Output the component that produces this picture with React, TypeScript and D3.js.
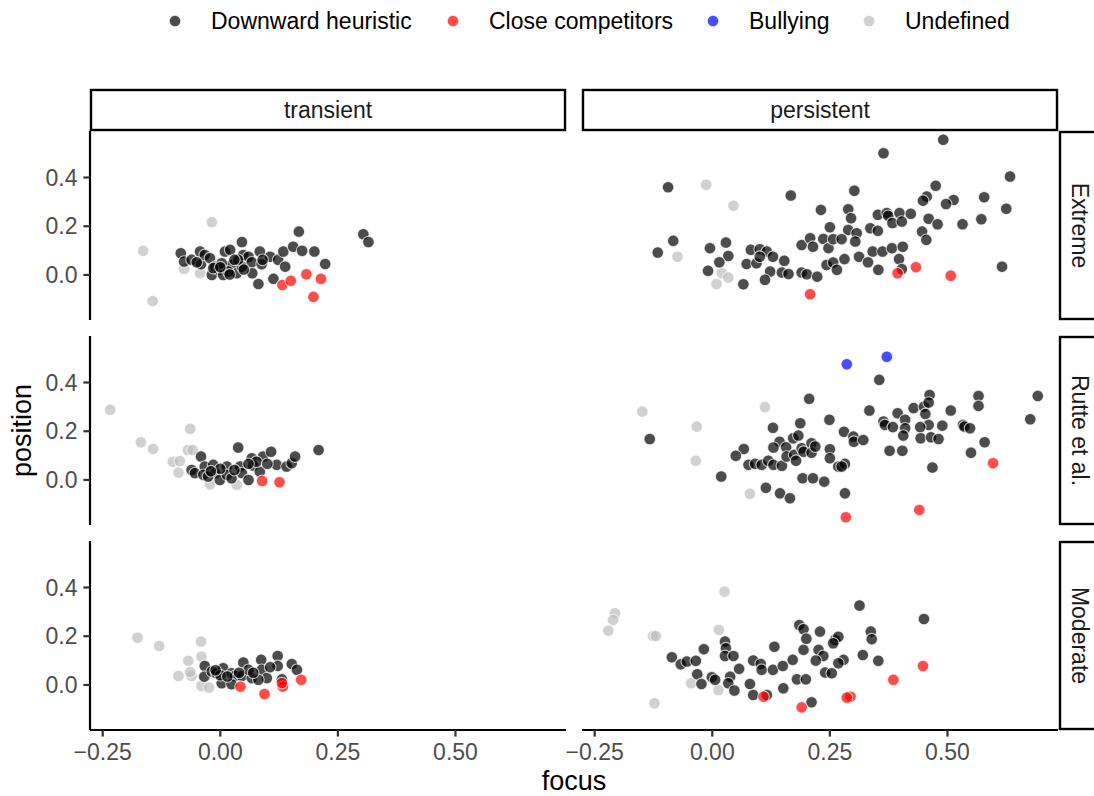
import React from 'react';
import * as d3 from 'd3';

type Pt = [number, number];

// legend groups and facet labels
const groups = ['Downward heuristic', 'Close competitors', 'Bullying', 'Undefined'];
const groupFill = ['#000000', '#FF0000', '#0000FF', '#BEBEBE'];
const cols = ['transient', 'persistent'];
const rows = ['Extreme', 'Rutte et al.', 'Moderate'];
const xTicks = [-0.25, 0, 0.25, 0.5];
const yTicks = [0, 0.2, 0.4];

// transient / Extreme
const tExtUnd: Pt[] = [[-0.018, 0.217], [-0.164, 0.099], [-0.144, -0.107], [-0.077, 0.025], [-0.043, 0.007]];
const tExtDown: Pt[] = [
  [-0.084, 0.089], [-0.077, 0.055], [-0.061, 0.062], [-0.043, 0.096], [-0.041, 0.044], [-0.033, 0.082],
  [-0.022, 0.069], [-0.018, 0.0], [-0.011, 0.034], [-0.003, 0.021], [0.006, 0.0], [0.01, 0.096],
  [0.021, 0.103], [0.024, 0.041], [0.035, 0.007], [0.046, 0.135], [0.049, 0.082], [0.046, 0.034],
  [0.06, 0.075], [0.067, 0.052], [0.068, 0.007], [0.084, 0.096], [0.088, 0.044], [0.106, 0.075],
  [0.123, 0.062], [0.134, 0.096], [0.138, 0.034], [0.155, 0.116], [0.167, 0.178], [0.174, 0.099],
  [0.2, 0.096], [0.223, 0.045], [0.081, -0.037], [0.113, -0.016], [0.304, 0.167], [0.315, 0.135],
  [0.003, 0.048], [-0.015, 0.028], [0.017, 0.014], [0.038, 0.062], [0.05, 0.022], [0.03, 0.062],
  [-0.05, 0.052], [0.0, 0.032], [0.02, 0.002], [0.09, 0.062],
];
const tExtClose: Pt[] = [[0.132, -0.041], [0.15, -0.024], [0.183, 0.003], [0.214, -0.016], [0.198, -0.09]];

// persistent / Extreme
const pExtUnd: Pt[] = [[-0.013, 0.37], [0.045, 0.284], [-0.074, 0.075], [0.02, 0.007], [0.034, -0.011], [0.009, -0.037]];
const pExtDown: Pt[] = [
  [-0.094, 0.36], [0.167, 0.326], [0.231, 0.267], [0.25, 0.196], [-0.083, 0.14], [-0.116, 0.092],
  [-0.005, 0.11], [0.029, 0.133], [0.034, 0.078], [0.015, 0.052], [-0.009, 0.017], [0.066, -0.038],
  [0.082, 0.103], [0.101, 0.106], [0.116, 0.096], [0.073, 0.045], [0.094, 0.048], [0.101, 0.075],
  [0.129, 0.075], [0.153, 0.058], [0.123, 0.014], [0.112, -0.02], [0.148, 0.01], [0.162, 0.004],
  [0.19, 0.01], [0.201, 0.003], [0.223, -0.007], [0.19, 0.123], [0.208, 0.151], [0.214, 0.116],
  [0.236, 0.148], [0.247, 0.11], [0.257, 0.147], [0.243, 0.041], [0.257, 0.051], [0.265, 0.021],
  [0.491, 0.555], [0.364, 0.5], [0.633, 0.404], [0.302, 0.346], [0.475, 0.366], [0.456, 0.322],
  [0.448, 0.305], [0.513, 0.308], [0.497, 0.291], [0.578, 0.319], [0.625, 0.272], [0.289, 0.27],
  [0.295, 0.233], [0.352, 0.247], [0.371, 0.254], [0.374, 0.243], [0.398, 0.254], [0.422, 0.251],
  [0.383, 0.213], [0.403, 0.219], [0.46, 0.231], [0.479, 0.208], [0.532, 0.208], [0.572, 0.229],
  [0.446, 0.178], [0.455, 0.144], [0.289, 0.185], [0.307, 0.171], [0.304, 0.137], [0.336, 0.192],
  [0.352, 0.181], [0.275, 0.147], [0.341, 0.096], [0.362, 0.096], [0.382, 0.11], [0.405, 0.116],
  [0.312, 0.075], [0.331, 0.052], [0.353, 0.021], [0.281, 0.065], [0.397, 0.065], [0.403, 0.024],
  [0.616, 0.034],
];
const pExtClose: Pt[] = [[0.208, -0.079], [0.394, 0.007], [0.433, 0.032], [0.507, -0.003]];

// transient / Rutte et al.
const tRutUnd: Pt[] = [
  [-0.234, 0.288], [-0.169, 0.155], [-0.143, 0.127], [-0.064, 0.21], [-0.069, 0.123], [-0.059, 0.123],
  [-0.101, 0.075], [-0.086, 0.078], [-0.089, 0.03], [-0.022, -0.018], [0.035, -0.02],
];
const tRutDown: Pt[] = [
  [0.038, 0.133], [-0.041, 0.096], [-0.061, 0.041], [-0.054, 0.028], [-0.033, 0.055], [-0.036, 0.021],
  [-0.015, 0.062], [-0.011, 0.028], [-0.001, 0.0], [0.014, 0.055], [0.014, 0.021], [0.024, 0.007],
  [0.042, 0.055], [0.046, 0.028], [0.06, 0.0], [0.067, 0.089], [0.07, 0.059], [0.084, 0.034],
  [0.091, 0.096], [0.108, 0.116], [0.12, 0.062], [0.141, 0.055], [0.152, 0.069], [0.159, 0.096],
  [0.209, 0.123], [-0.026, 0.014], [0.077, 0.075], [0.03, 0.041], [0.0, 0.046], [0.06, 0.066],
  [0.1, 0.066], [-0.02, 0.036],
];
const tRutClose: Pt[] = [[0.089, -0.004], [0.126, -0.009]];

// persistent / Rutte et al.
const pRutUnd: Pt[] = [[-0.149, 0.281], [-0.033, 0.219], [-0.035, 0.079], [0.112, 0.299], [0.08, -0.057]];
const pRutDown: Pt[] = [
  [-0.133, 0.168], [0.206, 0.333], [0.187, 0.233], [0.249, 0.247], [0.129, 0.214], [0.067, 0.127],
  [0.05, 0.099], [0.077, 0.062], [0.091, 0.066], [0.105, 0.062], [0.119, 0.079], [0.13, 0.062],
  [0.148, 0.058], [0.143, 0.157], [0.13, 0.133], [0.157, 0.134], [0.158, 0.096], [0.172, 0.171],
  [0.183, 0.182], [0.174, 0.103], [0.178, 0.079], [0.19, 0.13], [0.194, 0.116], [0.211, 0.151],
  [0.211, 0.112], [0.219, 0.137], [0.25, 0.126], [0.25, 0.089], [0.268, 0.055], [0.019, 0.014],
  [0.114, -0.032], [0.144, -0.055], [0.165, -0.075], [0.192, 0.007], [0.214, 0.007], [0.238, -0.007],
  [0.355, 0.411], [0.334, 0.285], [0.394, 0.274], [0.41, 0.247], [0.364, 0.24], [0.367, 0.226],
  [0.384, 0.217], [0.41, 0.212], [0.406, 0.182], [0.428, 0.295], [0.45, 0.301], [0.462, 0.349],
  [0.46, 0.318], [0.453, 0.271], [0.46, 0.226], [0.442, 0.217], [0.443, 0.171], [0.465, 0.175],
  [0.481, 0.168], [0.489, 0.223], [0.507, 0.285], [0.533, 0.226], [0.536, 0.219], [0.548, 0.212],
  [0.566, 0.345], [0.566, 0.304], [0.579, 0.155], [0.55, 0.112], [0.692, 0.345], [0.676, 0.249],
  [0.377, 0.12], [0.404, 0.12], [0.468, 0.051], [0.28, 0.198], [0.3, 0.178], [0.301, 0.157],
  [0.321, 0.164], [0.282, 0.066], [0.275, 0.055], [0.282, -0.055],
];
const pRutClose: Pt[] = [[0.597, 0.069], [0.44, -0.123], [0.284, -0.153]];
const pRutBully: Pt[] = [[0.286, 0.475], [0.371, 0.506]];

// transient / Moderate
const tModUnd: Pt[] = [
  [-0.176, 0.194], [-0.13, 0.16], [-0.041, 0.178], [-0.04, 0.116], [-0.068, 0.099], [-0.089, 0.037],
  [-0.061, 0.037], [-0.04, -0.004], [-0.024, -0.011], [-0.064, 0.053],
];
const tModDown: Pt[] = [
  [-0.033, 0.078], [-0.034, 0.034], [-0.018, 0.055], [-0.008, 0.048], [0.006, 0.069], [0.003, 0.007],
  [0.024, 0.048], [0.031, 0.037], [0.049, 0.092], [0.046, 0.037], [0.024, 0.003], [0.067, 0.028],
  [0.087, 0.103], [0.088, 0.062], [0.099, 0.028], [0.122, 0.119], [0.122, 0.078], [0.152, 0.086],
  [0.163, 0.062], [0.131, 0.023], [0.081, 0.021], [0.06, 0.062], [0.106, 0.073], [0.0, 0.04],
  [0.04, 0.05], [0.015, 0.035], [-0.01, 0.06], [0.07, 0.05],
];
const tModClose: Pt[] = [[0.094, -0.037], [0.172, 0.021], [0.133, -0.007], [0.043, -0.007], [0.131, 0.008]];

// persistent / Moderate
const pModUnd: Pt[] = [
  [0.026, 0.383], [-0.207, 0.294], [-0.211, 0.267], [-0.221, 0.223], [-0.126, 0.201], [-0.12, 0.201],
  [0.014, 0.226], [-0.045, 0.007], [0.013, -0.021], [-0.123, -0.075],
];
const pModDown: Pt[] = [
  [0.185, 0.246], [0.194, 0.229], [0.229, 0.219], [0.132, 0.157], [-0.018, 0.147], [0.027, 0.178],
  [0.029, 0.151], [0.027, 0.119], [0.045, 0.119], [-0.086, 0.114], [-0.067, 0.085], [-0.054, 0.096],
  [-0.035, 0.099], [0.057, 0.066], [0.087, 0.1], [0.103, 0.086], [0.105, 0.062], [0.129, 0.062],
  [0.15, 0.078], [0.171, 0.103], [0.194, 0.144], [0.226, 0.144], [0.236, 0.119], [-0.032, 0.044],
  [-0.023, 0.004], [-0.001, 0.032], [0.006, 0.021], [0.038, 0.034], [0.034, 0.007], [0.047, -0.023],
  [0.08, 0.004], [0.087, -0.041], [0.116, -0.041], [0.151, -0.014], [0.18, 0.023], [0.199, 0.023],
  [0.24, 0.051], [0.211, -0.071], [0.313, 0.326], [0.45, 0.271], [0.337, 0.219], [0.339, 0.188],
  [0.261, 0.185], [0.268, 0.198], [0.257, 0.171], [0.279, 0.103], [0.268, 0.089], [0.32, 0.123],
  [0.353, 0.099], [0.254, 0.048], [0.22, 0.1], [0.2, 0.19],
];
const pModClose: Pt[] = [[0.19, -0.092], [0.109, -0.048], [0.385, 0.021], [0.448, 0.078], [0.294, -0.048], [0.286, -0.052]];

// [row][col] -> series per group index (0 down, 1 close, 2 bully, 3 undefined)
const panelData: Pt[][][][] = [
  [[tExtDown, tExtClose, [], tExtUnd], [pExtDown, pExtClose, [], pExtUnd]],
  [[tRutDown, tRutClose, [], tRutUnd], [pRutDown, pRutClose, pRutBully, pRutUnd]],
  [[tModDown, tModClose, [], tModUnd], [pModDown, pModClose, [], pModUnd]],
];
const drawOrder = [3, 0, 1, 2];

const W = 1094;
const H = 796;
const colX = [90, 582];
const rowY = [131, 336, 541];
const PW = 476;
const PH = 189;
const stripH = 42;
const rStripX = 1059;
const rStripW = 42;
const legendX = [175, 453, 713, 869];
const font = "'Liberation Sans', Arial, Helvetica, sans-serif";
const smallFont = 23;
const titleFont = 27;

const x = d3.scaleLinear().domain([-0.277, 0.735]).range([0, PW]);
const y = d3.scaleLinear().domain([-0.185, 0.591]).range([PH, 0]);

const fmtX = (v: number) => d3.format('.2f')(v).replace('-', '\u2212');
const fmtY = (v: number) => d3.format('.1f')(v);

function Dot({ cx, cy, fill }: { cx: number; cy: number; fill: string }) {
  return (
    <circle cx={cx} cy={cy} r={5.8} fill={fill} fillOpacity={0.7}
      stroke="#FFFFFF" strokeOpacity={0.7} strokeWidth={1.1} />
  );
}

export default function App() {
  return (
    <svg width={W} height={H} style={{ position: 'absolute', left: 0, top: 0 }} fontFamily={font}>
      <rect width={W} height={H} fill="#FFFFFF" />

      {/* legend */}
      {groups.map((g, i) => (
        <g key={g}>
          <Dot cx={legendX[i]} cy={21} fill={groupFill[i]} />
          <text x={legendX[i] + 36} y={21} dy="0.35em" fontSize={smallFont} fill="#000000">{g}</text>
        </g>
      ))}

      {/* column strips */}
      {cols.map((c, ci) => (
        <g key={c}>
          <rect x={colX[ci] + 1} y={rowY[0] - stripH + 1} width={PW - 2} height={stripH - 2}
            fill="#FFFFFF" stroke="#000000" strokeWidth={2.4} />
          <text x={colX[ci] + PW / 2} y={rowY[0] - stripH / 2} dy="0.35em" textAnchor="middle"
            fontSize={smallFont} fill="#1A1A1A">{c}</text>
        </g>
      ))}

      {/* row strips */}
      {rows.map((r, ri) => (
        <g key={r}>
          <rect x={rStripX + 1} y={rowY[ri] + 1} width={rStripW - 2} height={PH - 2}
            fill="#FFFFFF" stroke="#000000" strokeWidth={2.4} />
          <text transform={`translate(${rStripX + rStripW / 2},${rowY[ri] + PH / 2}) rotate(90)`}
            dy="0.35em" textAnchor="middle" fontSize={smallFont} fill="#1A1A1A">{r}</text>
        </g>
      ))}

      {/* panels */}
      {rows.map((r, ri) =>
        cols.map((c, ci) => (
          <g key={r + c} transform={`translate(${colX[ci]},${rowY[ri]})`}>
            {drawOrder.map((gi) =>
              panelData[ri][ci][gi].map((d, k) => (
                <Dot key={gi + '-' + k} cx={x(d[0])} cy={y(d[1])} fill={groupFill[gi]} />
              ))
            )}
          </g>
        ))
      )}

      {/* y axes (left column) */}
      {rows.map((r, ri) => (
        <g key={'ya' + r} transform={`translate(${colX[0]},${rowY[ri]})`}>
          <line x1={0} x2={0} y1={0} y2={PH} stroke="#000000" strokeWidth={2.2} />
          {yTicks.map((t) => (
            <g key={t} transform={`translate(0,${y(t)})`}>
              <line x1={-6.6} x2={0} stroke="#333333" strokeWidth={2.2} />
              <text x={-12.5} dy="0.35em" textAnchor="end" fontSize={smallFont} fill="#4D4D4D">{fmtY(t)}</text>
            </g>
          ))}
        </g>
      ))}

      {/* x axes (bottom row) */}
      {cols.map((c, ci) => (
        <g key={'xa' + c} transform={`translate(${colX[ci]},${rowY[2] + PH})`}>
          <line x1={0} x2={PW} y1={0} y2={0} stroke="#000000" strokeWidth={2.2} />
          {xTicks.map((t) => (
            <g key={t} transform={`translate(${x(t)},0)`}>
              <line y1={0} y2={6.6} stroke="#333333" strokeWidth={2.2} />
              <text y={22} dy="0.35em" textAnchor="middle" fontSize={smallFont} fill="#4D4D4D">{fmtX(t)}</text>
            </g>
          ))}
        </g>
      ))}

      {/* axis titles */}
      <text x={(colX[0] + colX[1] + PW) / 2} y={781} dy="0.35em" textAnchor="middle" fontSize={titleFont} fill="#000000">focus</text>
      <text transform={`translate(22,${(rowY[0] + rowY[2] + PH) / 2}) rotate(-90)`} dy="0.35em"
        textAnchor="middle" fontSize={titleFont} fill="#000000">position</text>
    </svg>
  );
}
